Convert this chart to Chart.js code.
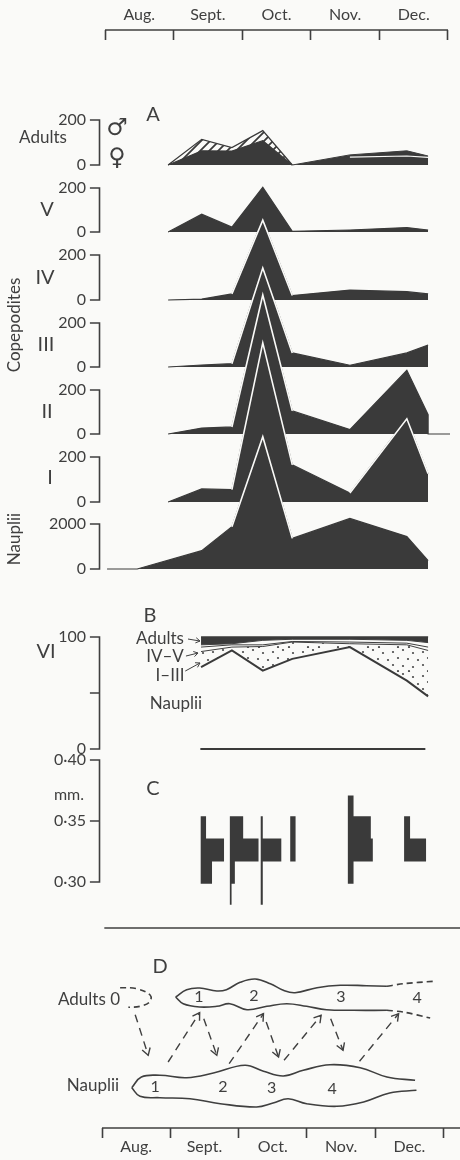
<!DOCTYPE html>
<html>
<head>
<meta charset="utf-8">
<title>Seasonal development</title>
<script src="https://cdn.jsdelivr.net/npm/chart.js@4"></script>
<style>
  html, body { margin: 0; padding: 0; background: #fafaf8; }
  canvas { display: block; filter: blur(0.35px); }
</style>
</head>
<body>
<canvas id="chart" width="460" height="1160"></canvas>
<script>
// x is always in months after the start of August (0 = 1 Aug, 1 = 1 Sept ...)
const monthLabels = ['Aug.', 'Sept.', 'Oct.', 'Nov.', 'Dec.'];
const monthEdges = [0, 1, 2, 3, 4, 5];

// Panel A: numbers per sample date
const sampleDates = [0.92, 1.41, 1.85, 2.30, 2.73, 3.57, 4.40, 4.71];
const adultsAll = [0, 114, 77, 153, 0, 45, 63, 40];
const adultsFemale = [0, 63, 62, 108, 0, 35, 40, 34];
const stageV = [0, 81, 22, 203, 3, 9, 20, 9];
const stageIV = [0, 4, 27, 355, 20, 44, 37, 27];
const stageIII = [0, 9, 15, 450, 64, 8, 64, 100];
const stageII = [0, 27, 32, 632, 105, 20, 290, 88];
const stageI = [0, 58, 55, 707, 165, 40, 370, 126];
const naupliiDates = [0.03, 0.47, 1.41, 1.85, 2.30, 2.73, 3.57, 4.40, 4.71];
const naupliiCounts = [0, 0, 815, 1880, 5880, 1360, 2250, 1440, 370];

// Panel B: cumulative percentages
const percentDates = [1.40, 1.85, 2.30, 2.73, 3.57, 4.40, 4.71];
const pctAdults = [93, 94, 97, 98, 98, 97, 95];
const pctIVV = [91, 93, 93, 96, 95.5, 94.5, 91];
const pctIIII = [87, 91, 91.5, 95.5, 94, 93, 88];
const pctNauplii = [73, 88, 70, 80.5, 91, 61, 47];

// Panel C: length frequency per sample, width of each class in months of the x axis
const lengthEdges = [0.2813, 0.2986, 0.3168, 0.3357, 0.3538, 0.3708];
const lengthStarts = [1.395, 1.82, 2.27, 2.70, 3.54, 4.36];
const lengthFreqs = [
  [0, 0.165, 0.34, 0.078, 0],
  [0.025, 0.073, 0.418, 0.194, 0],
  [0.03, 0.03, 0.30, 0.03, 0],
  [0, 0, 0.078, 0.078, 0],
  [0, 0.083, 0.364, 0.335, 0.083],
  [0, 0, 0.32, 0.087, 0]
];

// Panel D: generation bands, y is distance above the adults line
const adultsTopX = [1.03, 1.19, 1.38, 1.63, 1.77, 1.97, 2.19, 2.41, 2.60, 2.77, 3.09, 3.43, 3.81, 4.11];
const adultsTopY = [0, 7.3, 9, 6, 7.3, 14.7, 18, 13.3, 6.7, 4.3, 9.3, 11.7, 11.3, 10.7];
const adultsLowX = [1.03, 1.14, 1.38, 1.63, 1.82, 2.07, 2.36, 2.65, 2.94, 3.23, 3.62, 4.11];
const adultsLowY = [0, -6.7, -10, -9.3, -6.7, -12.7, -9.3, -6.7, -9.3, -12.7, -13.3, -13.3];
const adultsTopDashX = [4.11, 4.35, 4.79];
const adultsTopDashY = [10.7, 13.3, 15.7];
const adultsLowDashX = [4.11, 4.35, 4.74];
const adultsLowDashY = [-13.3, -15, -21];
const adultsZeroX = [0.22, 0.46, 0.66, 0.65, 0.51, 0.34];
const adultsZeroY = [9.3, 8.3, 1.7, -5, -9.3, -10.3];
const naupTopX = [0.39, 0.53, 0.80, 1.19, 1.58, 2.04, 2.31, 2.60, 2.89, 3.28, 3.72, 4.11, 4.52];
const naupTopY = [-90.7, -80, -78.3, -80.7, -76, -68.3, -74.3, -79, -73.3, -67.7, -70.7, -80, -83.3];
const naupLowX = [0.39, 0.51, 0.80, 1.24, 1.68, 2.21, 2.45, 2.67, 2.94, 3.38, 3.77, 4.15, 4.54];
const naupLowY = [-90.7, -99.3, -100.7, -101.7, -106.7, -110, -106, -101.7, -106.7, -109.3, -105, -96, -93.3];
const genArrows = [
  [0.44, -17.7, 0.63, -58.3],
  [0.92, -65, 1.38, -15.7],
  [1.44, -21.7, 1.63, -58.3],
  [1.81, -66.7, 2.31, -16.7],
  [2.35, -25, 2.53, -60],
  [2.61, -63.3, 3.15, -18.3],
  [3.29, -21.7, 3.47, -53.3],
  [3.71, -64.3, 4.28, -16.7]
];
const genNumbers = [
  ['1', 1.37, 0], ['2', 2.17, 1], ['3', 3.44, 0], ['4', 4.55, -1],
  ['1', 0.73, -90], ['2', 1.72, -90], ['3', 2.43, -91], ['4', 3.31, -92]
];

const INK = '#3f3f3f';
const FILL = '#3a3a3a';
const PAPER = '#fafaf8';
const H = 1160;
const AXIS_X = -0.08;   // where the y brackets stand
const TICK_X = -0.22;   // left end of their ticks
const LABEL_X = -0.277; // right edge of the tick labels
const FONT = 'Lato, "Open Sans", sans-serif';

function pts(xs, ys) {
  return xs.map((x, i) => ({ x: x, y: ys[i] }));
}

// y scale that puts val0 at pixel px0 and val1 at pixel px1
function yScale(px0, px1, val0, val1, ticks, fmt) {
  const per = (val1 - val0) / (px0 - px1);
  return {
    type: 'linear',
    axis: 'y',
    position: { x: LABEL_X },
    min: val0 - (H - px0) * per,
    max: val0 + px0 * per,
    afterBuildTicks: s => { s.ticks = ticks.map(v => ({ value: v })); },
    border: { display: false },
    grid: { drawOnChartArea: false, drawTicks: false },
    ticks: {
      autoSkip: false,
      padding: -30, // keeps the scale from claiming room in the layout
      color: INK,
      font: { family: FONT, size: 16 },
      callback: fmt || (v => String(v))
    }
  };
}

function monthAxis(minV, maxV, pageY) {
  return {
    type: 'linear',
    axis: 'x',
    position: { page: pageY },
    min: minV,
    max: maxV,
    afterBuildTicks: s => { s.ticks = monthEdges.map(v => ({ value: v })); },
    border: { display: false },
    grid: { drawOnChartArea: false, drawTicks: true, tickLength: 10, tickWidth: 1.6, tickColor: INK },
    ticks: { display: false, autoSkip: false }
  };
}

function stripePattern() {
  const c = document.createElement('canvas');
  c.width = 9; c.height = 9;
  const g = c.getContext('2d');
  g.fillStyle = PAPER;
  g.fillRect(0, 0, 9, 9);
  g.strokeStyle = FILL;
  g.lineWidth = 1.8;
  g.beginPath();
  g.moveTo(-1, 10); g.lineTo(10, -1);
  g.moveTo(-5, 5); g.lineTo(5, -5);
  g.moveTo(4, 14); g.lineTo(14, 4);
  g.stroke();
  return document.getElementById('chart').getContext('2d').createPattern(c, 'repeat');
}

function dotPattern() {
  const c = document.createElement('canvas');
  c.width = 30; c.height = 24;
  const g = c.getContext('2d');
  g.fillStyle = PAPER;
  g.fillRect(0, 0, 30, 24);
  g.fillStyle = '#4a4a4a';
  [[3, 4], [13, 2], [23, 5], [8, 10], [18, 11], [28, 12], [3, 17], [13, 18], [23, 19], [8, 23], [19, 23]].forEach(d => {
    g.beginPath();
    g.arc(d[0], d[1], 1.1, 0, Math.PI * 2);
    g.fill();
  });
  return document.getElementById('chart').getContext('2d').createPattern(c, 'repeat');
}

function ridge(xs, ys, yAxisID) {
  return {
    data: pts(xs, ys),
    yAxisID: yAxisID,
    fill: 'origin',
    backgroundColor: FILL,
    borderColor: FILL,
    borderWidth: 1.2
  };
}

// pale edge of a hump where it lies over the dark panel behind it
function outline(xs, ys, yAxisID, from, to) {
  return {
    data: pts(xs, ys).filter(p => p.x >= from && p.x <= to),
    yAxisID: yAxisID,
    fill: false,
    borderColor: PAPER,
    borderWidth: 1.6
  };
}

function line(data, yAxisID, extra) {
  return Object.assign({
    data: data,
    yAxisID: yAxisID,
    fill: false,
    borderColor: INK,
    borderWidth: 1.6
  }, extra || {});
}

// axis line with a tick at each listed value
function bracket(yAxisID, ticks) {
  const path = [];
  ticks.forEach(t => {
    path.push({ x: AXIS_X, y: t }, { x: TICK_X, y: t }, { x: AXIS_X, y: t });
  });
  return line(path, yAxisID);
}

// closed outline of one length histogram
function histogram(start, freqs) {
  const out = [{ x: start, y: lengthEdges[0] }];
  freqs.forEach((f, i) => {
    out.push({ x: start + f, y: lengthEdges[i] });
    out.push({ x: start + f, y: lengthEdges[i + 1] });
  });
  out.push({ x: start, y: lengthEdges[freqs.length] });
  return out;
}

const datasets = [
  // arrows and bands of panel D
  ...genArrows.map(a => line([{ x: a[0], y: a[1] }, { x: a[2], y: a[3] }], 'lanes', { borderDash: [8, 6], borderWidth: 1.4, arrowHead: true })),
  line(pts(adultsTopX, adultsTopY), 'lanes', { tension: 0.4 }),
  line(pts(adultsLowX, adultsLowY), 'lanes', { tension: 0.4 }),
  line(pts(adultsTopDashX, adultsTopDashY), 'lanes', { tension: 0.3, borderDash: [6, 4] }),
  line(pts(adultsLowDashX, adultsLowDashY), 'lanes', { tension: 0.3, borderDash: [6, 4] }),
  line(pts(adultsZeroX, adultsZeroY), 'lanes', { tension: 0.4, borderDash: [6, 4] }),
  line(pts(naupTopX, naupTopY), 'lanes', { tension: 0.4 }),
  line(pts(naupLowX, naupLowY), 'lanes', { tension: 0.4 }),
  line([{ x: -0.01, y: 69 }, { x: 5.2, y: 69 }], 'lanes'),

  // panel C
  ...lengthStarts.map((s, i) => line(histogram(s, lengthFreqs[i]), 'mm', { fill: 'shape', backgroundColor: FILL, borderWidth: 0 })),

  // panel B
  line([{ x: 1.18, y: 83 }, { x: 1.356, y: 85.7 }], 'pct', { borderWidth: 1, arrowHead: true }),
  line([{ x: 1.17, y: 69.6 }, { x: 1.385, y: 76.8 }], 'pct', { borderWidth: 1, arrowHead: true }),
  line([{ x: 1.21, y: 98.2 }, { x: 1.385, y: 96.4 }], 'pct', { borderWidth: 1, arrowHead: true }),
  line(pts(percentDates, pctNauplii), 'pct', { borderColor: FILL, borderWidth: 2 }),
  line(pts(percentDates, pctIIII), 'pct', { borderWidth: 1, fill: '-1', backgroundColor: dotPattern() }),
  line(pts(percentDates, pctIVV), 'pct', { borderWidth: 1 }),
  line(pts(percentDates, pctAdults), 'pct', { borderWidth: 1, fill: { value: 100 }, backgroundColor: FILL }),
  line(pts([1.40, 4.71], [100, 100]), 'pct', { borderColor: FILL }),
  line(pts([1.39, 4.67], [0, 0]), 'pct', { borderColor: FILL, borderWidth: 1.8 }),

  // panel A, front panel first so the ones behind are painted earlier
  outline(naupliiDates, naupliiCounts, 'nauplii', 1.85, 2.73),
  ridge(naupliiDates, naupliiCounts, 'nauplii'),
  outline(sampleDates, stageI, 'cI', 1.85, 2.73),
  outline(sampleDates, stageI, 'cI', 3.57, 4.71),
  ridge(sampleDates, stageI, 'cI'),
  outline(sampleDates, stageII, 'cII', 1.85, 2.73),
  ridge(sampleDates.concat([4.71, 5.03]), stageII.concat([0, 0]), 'cII'),
  outline(sampleDates, stageIII, 'cIII', 1.85, 2.73),
  ridge(sampleDates, stageIII, 'cIII'),
  outline(sampleDates, stageIV, 'cIV', 1.85, 2.73),
  ridge(sampleDates, stageIV, 'cIV'),
  ridge(sampleDates, stageV, 'cV'),

  // adults: hatched males over females up to October, thin pale rule later on
  line(pts(sampleDates.slice(5), adultsFemale.slice(5)), 'adults', { borderColor: PAPER, borderWidth: 1.2 }),
  line(pts(sampleDates.slice(4), adultsAll.slice(4)), 'adults', { borderColor: FILL, borderWidth: 1, fill: 'origin', backgroundColor: FILL }),
  ridge(sampleDates.slice(0, 5), adultsFemale.slice(0, 5), 'adults'),
  line(pts(sampleDates.slice(0, 5), adultsAll.slice(0, 5)), 'adults', { borderColor: FILL, borderWidth: 1.3, fill: 'origin', backgroundColor: stripePattern() }),

  // y brackets
  bracket('adults', [0, 200]), bracket('cV', [0, 200]), bracket('cIV', [0, 200]), bracket('cIII', [0, 200]),
  bracket('cII', [0, 200]), bracket('cI', [0, 200]), bracket('nauplii', [0, 2000]),
  bracket('pct', [0, 50, 100]), bracket('mm', [0.30, 0.35, 0.40]),

  // month brackets
  line([{ x: 0, y: 30 }, { x: 5, y: 30 }], 'page'),
  line([{ x: 0, y: 1128 }, { x: 5.25, y: 1128 }], 'page', { xAxisID: 'xb' })
];

// plain captions, pixel positions on the page
const captions = [
  ['Adults', 43, 138, 17], ['V', 47, 210, 20], ['IV', 45, 278, 20], ['III', 46, 345, 20],
  ['II', 47, 412, 20], ['I', 50, 478, 20], ['A', 153, 115, 20], ['VI', 46, 652, 20],
  ['B', 150, 616, 20], ['C', 153, 789, 20], ['D', 160, 967, 20], ['mm.', 69, 795, 16],
  ['Adults', 160, 639, 17], ['IV–V', 165, 657, 17], ['I–III', 170, 676, 17], ['Nauplii', 176, 704, 17],
  ['Adults 0', 89, 1000, 17], ['Nauplii', 93, 1086, 17]
];

const textPlugin = {
  id: 'figureText',
  afterDatasetsDraw(chart) {
    const ctx = chart.ctx;
    const sx = chart.scales.x, sb = chart.scales.xb, lanes = chart.scales.lanes;
    ctx.save();
    ctx.fillStyle = INK;
    ctx.textAlign = 'center';
    ctx.textBaseline = 'middle';

    // open arrow heads on the datasets that ask for one
    ctx.strokeStyle = INK;
    chart.data.datasets.forEach((ds, i) => {
      if (!ds.arrowHead) return;
      const p = chart.getDatasetMeta(i).data;
      const a = p[p.length - 2], b = p[p.length - 1];
      const ang = Math.atan2(b.y - a.y, b.x - a.x);
      const len = ds.borderWidth > 1 ? 8 : 5;
      ctx.lineWidth = ds.borderWidth;
      ctx.beginPath();
      ctx.moveTo(b.x - len * Math.cos(ang - 0.55), b.y - len * Math.sin(ang - 0.55));
      ctx.lineTo(b.x, b.y);
      ctx.lineTo(b.x - len * Math.cos(ang + 0.55), b.y - len * Math.sin(ang + 0.55));
      ctx.stroke();
    });

    ctx.font = '16px ' + FONT;
    monthLabels.forEach((m, i) => {
      ctx.fillText(m, sx.getPixelForValue(i + 0.5), 15);
      ctx.fillText(m, sb.getPixelForValue(i + 0.5), 1147);
    });
    captions.forEach(c => {
      ctx.font = c[3] + 'px ' + FONT;
      ctx.fillText(c[0], c[1], c[2]);
    });
    ctx.font = '16px ' + FONT;
    genNumbers.forEach(n => {
      ctx.fillText(n[0], sx.getPixelForValue(n[1]), lanes.getPixelForValue(n[2]));
    });

    ctx.font = '17px ' + FONT;
    [['Copepodites', 325], ['Nauplii', 539]].forEach(t => {
      ctx.save();
      ctx.translate(15, t[1]);
      ctx.rotate(-Math.PI / 2);
      ctx.fillText(t[0], 0, 0);
      ctx.restore();
    });

    ctx.font = '24px "DejaVu Sans"';
    ctx.fillText('♂', 117, 129);
    ctx.fillText('♀', 117, 159);
    ctx.restore();
  }
};

new Chart(document.getElementById('chart'), {
  type: 'line',
  data: { datasets: datasets },
  options: {
    responsive: false,
    animation: false,
    events: [],
    layout: { padding: 0, autoPadding: false },
    elements: { point: { radius: 0 }, line: { tension: 0 } },
    plugins: { legend: { display: false }, title: { display: false }, tooltip: { enabled: false } },
    scales: {
      page: { type: 'linear', axis: 'y', display: false, min: 0, max: H, reverse: true },
      lanes: { type: 'linear', axis: 'y', display: false, min: 997 - H, max: 997 },
      x: monthAxis(-105 / 68.6, 355 / 68.6, 30),
      xb: monthAxis(-102 / 68.3, 358 / 68.3, 1128),
      adults: yScale(165, 120, 0, 200, [0, 200]),
      cV: yScale(232, 188, 0, 200, [0, 200]),
      cIV: yScale(300, 255, 0, 200, [0, 200]),
      cIII: yScale(367, 323, 0, 200, [0, 200]),
      cII: yScale(434, 390, 0, 200, [0, 200]),
      cI: yScale(502, 457, 0, 200, [0, 200]),
      nauplii: yScale(569, 524, 0, 2000, [0, 2000]),
      pct: yScale(749, 637, 0, 100, [0, 50, 100], v => (v === 50 ? '' : String(v))),
      mm: yScale(882, 821, 0.30, 0.35, [0.30, 0.35, 0.40], v => v.toFixed(2).replace('.', '·'))
    }
  },
  plugins: [textPlugin]
});
</script>
</body>
</html>
